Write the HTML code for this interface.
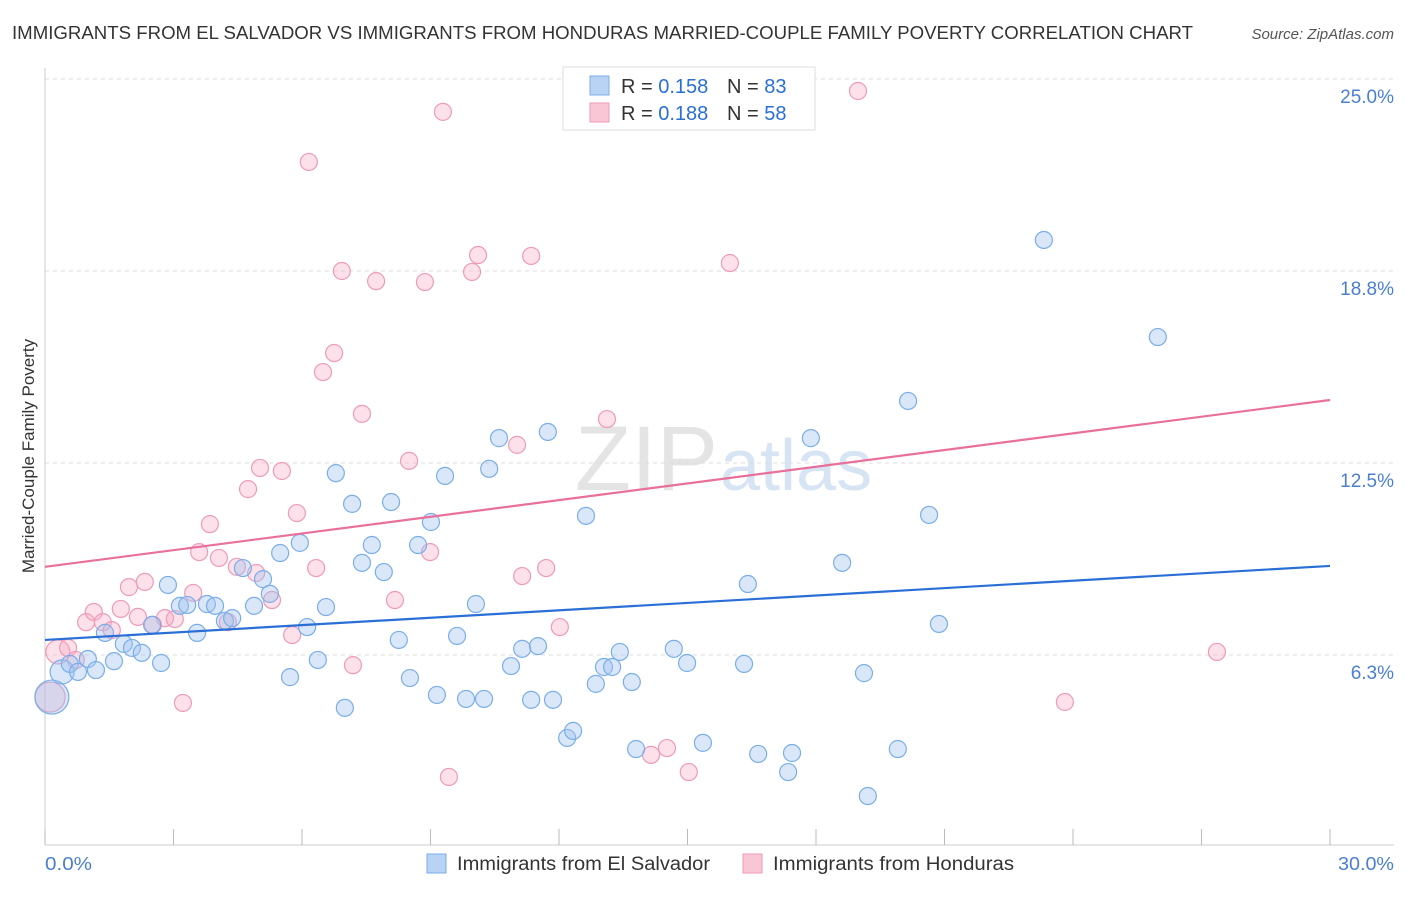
<!DOCTYPE html>
<html><head><meta charset="utf-8"><style>
body{margin:0;background:#fff;font-family:"Liberation Sans",sans-serif;}
svg text{font-family:"Liberation Sans",sans-serif;}
</style></head><body>
<svg id="chart" width="1406" height="892" xmlns="http://www.w3.org/2000/svg">
<text x="12" y="39" font-size="18" fill="#333" textLength="1181" lengthAdjust="spacingAndGlyphs">IMMIGRANTS FROM EL SALVADOR VS IMMIGRANTS FROM HONDURAS MARRIED-COUPLE FAMILY POVERTY CORRELATION CHART</text>
<text x="1394" y="39" font-size="15" fill="#555" text-anchor="end" font-style="italic">Source: ZipAtlas.com</text>
<text x="718" y="490" font-size="92" fill="#e4e4e4" text-anchor="end" font-family="Liberation Serif">ZIP</text>
<text x="720" y="490" font-size="72" fill="#d6e4f4">atlas</text>
<g id="grid"></g>
<g id="axes"></g>
<g id="marks"></g>
<text transform="translate(34,456) rotate(-90)" font-size="17" fill="#333" text-anchor="middle">Married-Couple Family Poverty</text>
<text x="45" y="870" font-size="18" fill="#4a7fd0" textLength="47" lengthAdjust="spacingAndGlyphs">0.0%</text>
<text x="1338" y="870" font-size="18" fill="#4a7fd0" textLength="56" lengthAdjust="spacingAndGlyphs">30.0%</text>
<g>
<rect x="563" y="67" width="252" height="63" fill="#fff" stroke="#ddd"/>
<rect x="590" y="76" width="19" height="19" fill="#b8d3f4" stroke="#7aaee8"/>
<text x="621" y="93" font-size="20" fill="#333">R = <tspan fill="#2a6fd6">0.158</tspan></text>
<text x="727" y="93" font-size="20" fill="#333">N = <tspan fill="#2a6fd6">83</tspan></text>
<rect x="590" y="103" width="19" height="19" fill="#f9c6d6" stroke="#ee9ab8"/>
<text x="621" y="120" font-size="20" fill="#333">R = <tspan fill="#2a6fd6">0.188</tspan></text>
<text x="727" y="120" font-size="20" fill="#333">N = <tspan fill="#2a6fd6">58</tspan></text>
</g>
<g>
<rect x="427" y="854" width="19" height="19" fill="#b8d3f4" stroke="#7aaee8"/>
<text x="457" y="870" font-size="19" fill="#333" textLength="253" lengthAdjust="spacingAndGlyphs">Immigrants from El Salvador</text>
<rect x="743" y="854" width="19" height="19" fill="#f9c6d6" stroke="#ee9ab8"/>
<text x="773" y="870" font-size="19" fill="#333" textLength="241" lengthAdjust="spacingAndGlyphs">Immigrants from Honduras</text>
</g>
</svg>
<script>
const yTicks=[6.25,12.5,18.75,25];
const yTickLabels=["6.3%","12.5%","18.8%","25.0%"];
const xTicks=[0,3,6,9,12,15,18,21,24,27,30];
const blueX=[0.16,0.40,0.58,0.77,1.00,1.19,1.40,1.61,1.84,2.03,2.26,2.50,2.71,2.87,3.15,3.32,3.55,3.78,3.97,4.20,4.37,4.62,4.88,5.09,5.25,5.49,5.72,5.95,6.12,6.37,6.56,6.79,7.00,7.17,7.40,7.63,7.91,8.08,8.26,8.52,8.71,9.01,9.15,9.34,9.62,9.83,10.06,10.25,10.37,10.60,10.88,11.14,11.35,11.51,11.74,11.86,12.19,12.33,12.63,12.86,13.05,13.24,13.42,13.70,13.80,14.68,14.99,15.36,16.32,16.41,16.65,17.35,17.44,17.88,18.61,19.12,19.21,19.91,20.15,20.64,20.87,23.32,25.98];
const blueY=[4.88,5.70,5.96,5.70,6.12,5.76,6.97,6.05,6.61,6.48,6.32,7.23,5.99,8.53,7.85,7.88,6.97,7.91,7.85,7.36,7.45,9.08,7.85,8.72,8.24,9.57,5.53,9.90,7.16,6.09,7.81,12.17,4.53,11.17,9.25,9.83,8.95,11.23,6.74,5.50,9.83,10.58,4.95,12.08,6.87,4.82,7.91,4.82,12.31,13.31,5.89,6.45,4.79,6.54,13.51,4.79,3.55,3.78,10.78,5.31,5.86,5.86,6.35,5.37,3.19,6.45,5.99,3.39,5.96,8.56,3.03,2.44,3.06,13.31,9.25,5.66,1.66,3.19,14.52,10.81,7.26,19.76,16.60];
const blueR=[17,12];
const pinkX=[0.12,0.30,0.54,0.72,0.96,1.14,1.35,1.56,1.77,1.96,2.17,2.33,2.52,2.80,3.03,3.22,3.46,3.60,3.85,4.06,4.27,4.48,4.74,4.93,5.02,5.30,5.53,5.77,5.88,6.16,6.33,6.49,6.75,6.93,7.19,7.40,7.73,8.17,8.50,8.87,8.99,9.29,9.43,9.97,10.11,11.02,11.14,11.35,11.70,12.02,13.12,14.15,14.52,15.03,15.99,18.98,23.81,27.36];
const pinkY=[4.88,6.35,6.48,6.09,7.32,7.65,7.32,7.06,7.75,8.46,7.49,8.63,7.23,7.45,7.42,4.69,8.27,9.60,10.51,9.41,7.32,9.12,11.65,8.92,12.34,8.04,12.24,6.90,10.87,22.30,9.08,15.46,16.08,18.75,5.92,14.10,18.42,8.04,12.57,18.39,9.60,23.93,2.28,18.72,19.27,13.09,8.82,19.24,9.08,7.16,13.93,3.00,3.22,2.44,19.01,24.61,4.72,6.35];
const pinkR=[15,12];
const blueTrend=[6.74,9.15];
const pinkTrend=[9.12,14.55];

const NS="http://www.w3.org/2000/svg";
const xs=v=>45+v/30*1285;
const ys=v=>79+(25-v)*30.72;
function mk(tag,attrs,parent){const e=document.createElementNS(NS,tag);for(const k in attrs)e.setAttribute(k,attrs[k]);parent.appendChild(e);return e;}
const gridG=document.getElementById('grid'),axesG=document.getElementById('axes'),marksG=document.getElementById('marks');
yTicks.forEach((t,i)=>{
  const l=mk('line',{x1:45,x2:1394,y1:ys(t),y2:ys(t),stroke:'#ddd','stroke-dasharray':'4,4'},gridG);
  
  
  const tx=mk('text',{x:1394,y:ys(t)+24,'font-size':19,fill:'#4a7fd0','text-anchor':'end'},gridG);
  tx.textContent=yTickLabels[i];
  
  
});
const topLine=mk('line',{x1:45,x2:1394,y1:79,y2:79,stroke:'#ddd','stroke-dasharray':'4,4'},gridG);


const yAxisLine=mk('line',{x1:45,x2:45,y1:68,y2:845,stroke:'#ccc'},axesG);


const xAxisLine=mk('line',{x1:45,x2:1394,y1:845,y2:845,stroke:'#ccc'},axesG);


xTicks.forEach(t=>{
  const l=mk('line',{x1:xs(t),x2:xs(t),y1:829,y2:845,stroke:'#bbb'},axesG);
  
  
});
function pts(X,Y,R,fill,stroke,name){
  X.forEach((x,i)=>{
    const c=mk('circle',{cx:xs(x),cy:ys(Y[i]),r:R[i]||8.5,fill:fill,stroke:stroke,'stroke-width':1.2},marksG);
    
    
  });
}
pts(pinkX,pinkY,pinkR,'rgba(245,170,195,0.35)','#ee9ab8','honduras-point');
pts(blueX,blueY,blueR,'rgba(160,196,240,0.4)','#7aaee8','el-salvador-point');
const blueLine=mk('line',{x1:xs(0),x2:xs(30),y1:ys(blueTrend[0]),y2:ys(blueTrend[1]),stroke:'#2a6fd6','stroke-width':2.2},marksG);


const pinkLine=mk('line',{x1:xs(0),x2:xs(30),y1:ys(pinkTrend[0]),y2:ys(pinkTrend[1]),stroke:'#e8709a','stroke-width':2.2},marksG);


</script>
</body></html>
